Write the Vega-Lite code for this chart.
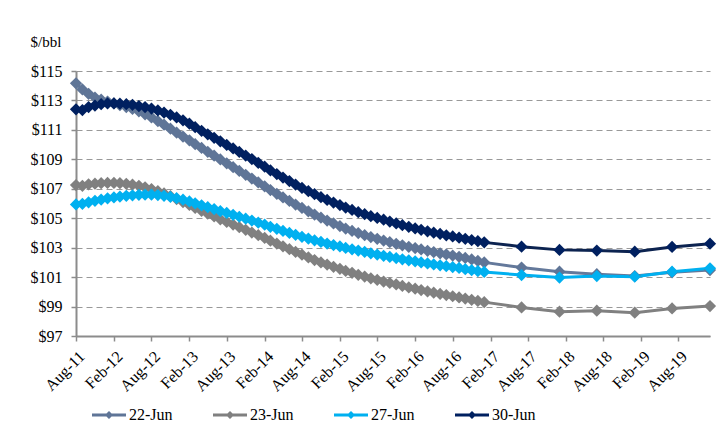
{
  "$schema": "https://vega.github.io/schema/vega-lite/v6.json",
  "width": 634,
  "height": 265,
  "autosize": "none",
  "padding": {"left": 76, "top": 71, "right": 17, "bottom": 88},
  "background": "white",
  "config": {
    "view": {"stroke": null},
    "font": "Times New Roman",
    "axis": {"labelFont": "Times New Roman", "titleFont": "Times New Roman", "labelColor": "#000", "titleColor": "#000", "domainColor": "#8c8c8c", "domainWidth": 2, "tickColor": "#8c8c8c", "tickWidth": 1.5, "tickSize": 5},
    "legend": {"labelFont": "Times New Roman"}
  },
  "data": {"values": [
    {"date":"2011-08-01","22-Jun":114.16,"23-Jun":107.25,"27-Jun":105.94,"30-Jun":112.4},
    {"date":"2011-09-01","22-Jun":113.75,"23-Jun":107.2,"27-Jun":105.98,"30-Jun":112.35},
    {"date":"2011-10-01","22-Jun":113.45,"23-Jun":107.3,"27-Jun":106.08,"30-Jun":112.55},
    {"date":"2011-11-01","22-Jun":113.2,"23-Jun":107.35,"27-Jun":106.18,"30-Jun":112.65},
    {"date":"2011-12-01","22-Jun":113.05,"23-Jun":107.38,"27-Jun":106.27,"30-Jun":112.75},
    {"date":"2012-01-01","22-Jun":112.92,"23-Jun":107.4,"27-Jun":106.35,"30-Jun":112.8},
    {"date":"2012-02-01","22-Jun":112.8,"23-Jun":107.4,"27-Jun":106.41,"30-Jun":112.8},
    {"date":"2012-03-01","22-Jun":112.68,"23-Jun":107.38,"27-Jun":106.47,"30-Jun":112.78},
    {"date":"2012-04-01","22-Jun":112.55,"23-Jun":107.34,"27-Jun":106.52,"30-Jun":112.75},
    {"date":"2012-05-01","22-Jun":112.42,"23-Jun":107.28,"27-Jun":106.56,"30-Jun":112.7},
    {"date":"2012-06-01","22-Jun":112.26,"23-Jun":107.2,"27-Jun":106.59,"30-Jun":112.62},
    {"date":"2012-07-01","22-Jun":112.06,"23-Jun":107.1,"27-Jun":106.6,"30-Jun":112.55},
    {"date":"2012-08-01","22-Jun":111.85,"23-Jun":106.98,"27-Jun":106.6,"30-Jun":112.45},
    {"date":"2012-09-01","22-Jun":111.6,"23-Jun":106.84,"27-Jun":106.57,"30-Jun":112.32},
    {"date":"2012-10-01","22-Jun":111.35,"23-Jun":106.68,"27-Jun":106.52,"30-Jun":112.18},
    {"date":"2012-11-01","22-Jun":111.08,"23-Jun":106.5,"27-Jun":106.45,"30-Jun":112.02},
    {"date":"2012-12-01","22-Jun":110.81,"23-Jun":106.3,"27-Jun":106.36,"30-Jun":111.85},
    {"date":"2013-01-01","22-Jun":110.55,"23-Jun":106.1,"27-Jun":106.26,"30-Jun":111.65},
    {"date":"2013-02-01","22-Jun":110.29,"23-Jun":105.9,"27-Jun":106.14,"30-Jun":111.42},
    {"date":"2013-03-01","22-Jun":110.03,"23-Jun":105.7,"27-Jun":106.01,"30-Jun":111.18},
    {"date":"2013-04-01","22-Jun":109.77,"23-Jun":105.5,"27-Jun":105.88,"30-Jun":110.94},
    {"date":"2013-05-01","22-Jun":109.51,"23-Jun":105.31,"27-Jun":105.75,"30-Jun":110.7},
    {"date":"2013-06-01","22-Jun":109.25,"23-Jun":105.12,"27-Jun":105.62,"30-Jun":110.46},
    {"date":"2013-07-01","22-Jun":108.99,"23-Jun":104.93,"27-Jun":105.49,"30-Jun":110.22},
    {"date":"2013-08-01","22-Jun":108.73,"23-Jun":104.75,"27-Jun":105.36,"30-Jun":109.98},
    {"date":"2013-09-01","22-Jun":108.47,"23-Jun":104.57,"27-Jun":105.23,"30-Jun":109.74},
    {"date":"2013-10-01","22-Jun":108.21,"23-Jun":104.39,"27-Jun":105.1,"30-Jun":109.5},
    {"date":"2013-11-01","22-Jun":107.95,"23-Jun":104.21,"27-Jun":104.97,"30-Jun":109.26},
    {"date":"2013-12-01","22-Jun":107.69,"23-Jun":104.03,"27-Jun":104.84,"30-Jun":109.02},
    {"date":"2014-01-01","22-Jun":107.43,"23-Jun":103.85,"27-Jun":104.7,"30-Jun":108.76},
    {"date":"2014-02-01","22-Jun":107.17,"23-Jun":103.66,"27-Jun":104.56,"30-Jun":108.5},
    {"date":"2014-03-01","22-Jun":106.91,"23-Jun":103.47,"27-Jun":104.42,"30-Jun":108.25},
    {"date":"2014-04-01","22-Jun":106.66,"23-Jun":103.28,"27-Jun":104.28,"30-Jun":108.0},
    {"date":"2014-05-01","22-Jun":106.41,"23-Jun":103.09,"27-Jun":104.14,"30-Jun":107.76},
    {"date":"2014-06-01","22-Jun":106.17,"23-Jun":102.9,"27-Jun":104.0,"30-Jun":107.52},
    {"date":"2014-07-01","22-Jun":105.93,"23-Jun":102.71,"27-Jun":103.87,"30-Jun":107.29},
    {"date":"2014-08-01","22-Jun":105.7,"23-Jun":102.52,"27-Jun":103.74,"30-Jun":107.06},
    {"date":"2014-09-01","22-Jun":105.47,"23-Jun":102.34,"27-Jun":103.62,"30-Jun":106.84},
    {"date":"2014-10-01","22-Jun":105.25,"23-Jun":102.16,"27-Jun":103.5,"30-Jun":106.63},
    {"date":"2014-11-01","22-Jun":105.04,"23-Jun":102.0,"27-Jun":103.39,"30-Jun":106.43},
    {"date":"2014-12-01","22-Jun":104.84,"23-Jun":101.85,"27-Jun":103.28,"30-Jun":106.24},
    {"date":"2015-01-01","22-Jun":104.65,"23-Jun":101.7,"27-Jun":103.18,"30-Jun":106.06},
    {"date":"2015-02-01","22-Jun":104.47,"23-Jun":101.56,"27-Jun":103.08,"30-Jun":105.89},
    {"date":"2015-03-01","22-Jun":104.3,"23-Jun":101.42,"27-Jun":102.98,"30-Jun":105.72},
    {"date":"2015-04-01","22-Jun":104.14,"23-Jun":101.29,"27-Jun":102.89,"30-Jun":105.56},
    {"date":"2015-05-01","22-Jun":103.99,"23-Jun":101.16,"27-Jun":102.8,"30-Jun":105.41},
    {"date":"2015-06-01","22-Jun":103.85,"23-Jun":101.04,"27-Jun":102.71,"30-Jun":105.27},
    {"date":"2015-07-01","22-Jun":103.72,"23-Jun":100.92,"27-Jun":102.62,"30-Jun":105.14},
    {"date":"2015-08-01","22-Jun":103.6,"23-Jun":100.81,"27-Jun":102.53,"30-Jun":105.02},
    {"date":"2015-09-01","22-Jun":103.48,"23-Jun":100.7,"27-Jun":102.45,"30-Jun":104.9},
    {"date":"2015-10-01","22-Jun":103.37,"23-Jun":100.6,"27-Jun":102.37,"30-Jun":104.77},
    {"date":"2015-11-01","22-Jun":103.26,"23-Jun":100.5,"27-Jun":102.29,"30-Jun":104.65},
    {"date":"2015-12-01","22-Jun":103.16,"23-Jun":100.4,"27-Jun":102.21,"30-Jun":104.53},
    {"date":"2016-01-01","22-Jun":103.06,"23-Jun":100.3,"27-Jun":102.14,"30-Jun":104.42},
    {"date":"2016-02-01","22-Jun":102.97,"23-Jun":100.21,"27-Jun":102.07,"30-Jun":104.31},
    {"date":"2016-03-01","22-Jun":102.88,"23-Jun":100.12,"27-Jun":102.0,"30-Jun":104.21},
    {"date":"2016-04-01","22-Jun":102.79,"23-Jun":100.03,"27-Jun":101.93,"30-Jun":104.11},
    {"date":"2016-05-01","22-Jun":102.7,"23-Jun":99.94,"27-Jun":101.86,"30-Jun":104.02},
    {"date":"2016-06-01","22-Jun":102.62,"23-Jun":99.86,"27-Jun":101.8,"30-Jun":103.93},
    {"date":"2016-07-01","22-Jun":102.54,"23-Jun":99.78,"27-Jun":101.74,"30-Jun":103.84},
    {"date":"2016-08-01","22-Jun":102.46,"23-Jun":99.7,"27-Jun":101.68,"30-Jun":103.76},
    {"date":"2016-09-01","22-Jun":102.38,"23-Jun":99.62,"27-Jun":101.62,"30-Jun":103.68},
    {"date":"2016-10-01","22-Jun":102.3,"23-Jun":99.54,"27-Jun":101.54,"30-Jun":103.6},
    {"date":"2016-11-01","22-Jun":102.2,"23-Jun":99.46,"27-Jun":101.47,"30-Jun":103.52},
    {"date":"2016-12-01","22-Jun":102.1,"23-Jun":99.38,"27-Jun":101.41,"30-Jun":103.44},
    {"date":"2017-01-01","22-Jun":102.0,"23-Jun":99.3,"27-Jun":101.35,"30-Jun":103.36},
    {"date":"2017-07-01","22-Jun":101.65,"23-Jun":98.94,"27-Jun":101.14,"30-Jun":103.07},
    {"date":"2018-01-01","22-Jun":101.37,"23-Jun":98.65,"27-Jun":100.97,"30-Jun":102.85},
    {"date":"2018-07-01","22-Jun":101.2,"23-Jun":98.72,"27-Jun":101.07,"30-Jun":102.8},
    {"date":"2019-01-01","22-Jun":101.07,"23-Jun":98.58,"27-Jun":101.03,"30-Jun":102.73},
    {"date":"2019-07-01","22-Jun":101.33,"23-Jun":98.87,"27-Jun":101.37,"30-Jun":103.05},
    {"date":"2020-01-01","22-Jun":101.48,"23-Jun":99.03,"27-Jun":101.6,"30-Jun":103.27}
  ]},
  "transform": [{"fold": ["22-Jun", "23-Jun", "27-Jun", "30-Jun"], "as": ["series", "price"]}],
  "encoding": {
    "x": {
      "field": "date", "type": "temporal",
      "scale": {"type": "utc", "domain": [{"year": 2011, "month": 8, "date": 1, "utc": true}, {"year": 2020, "month": 1, "date": 1, "utc": true}]},
      "axis": {
        "title": null, "format": "%b-%y", "labelAngle": -45, "labelFontSize": 16, "labelPadding": 7, "grid": false, "labelOverlap": false,
        "values": [
          {"year": 2011, "month": 8, "date": 1, "utc": true},
          {"year": 2012, "month": 2, "date": 1, "utc": true},
          {"year": 2012, "month": 8, "date": 1, "utc": true},
          {"year": 2013, "month": 2, "date": 1, "utc": true},
          {"year": 2013, "month": 8, "date": 1, "utc": true},
          {"year": 2014, "month": 2, "date": 1, "utc": true},
          {"year": 2014, "month": 8, "date": 1, "utc": true},
          {"year": 2015, "month": 2, "date": 1, "utc": true},
          {"year": 2015, "month": 8, "date": 1, "utc": true},
          {"year": 2016, "month": 2, "date": 1, "utc": true},
          {"year": 2016, "month": 8, "date": 1, "utc": true},
          {"year": 2017, "month": 2, "date": 1, "utc": true},
          {"year": 2017, "month": 8, "date": 1, "utc": true},
          {"year": 2018, "month": 2, "date": 1, "utc": true},
          {"year": 2018, "month": 8, "date": 1, "utc": true},
          {"year": 2019, "month": 2, "date": 1, "utc": true},
          {"year": 2019, "month": 8, "date": 1, "utc": true}
        ]
      }
    },
    "y": {
      "field": "price", "type": "quantitative",
      "scale": {"domain": [97, 115], "nice": false, "zero": false},
      "axis": {
        "values": [97, 99, 101, 103, 105, 107, 109, 111, 113, 115],
        "format": "$.0f", "labelFontSize": 16, "labelPadding": 9,
        "grid": true, "gridColor": "#999999", "gridDash": [6, 4], "gridWidth": 1.2,
        "title": "$/bbl", "titleAngle": 0, "titleAlign": "left", "titleBaseline": "alphabetic",
        "titleX": -46, "titleY": -25, "titleFontSize": 15, "titleFontWeight": "normal"
      }
    }
  },
  "layer": [
    {
      "mark": {"type": "line", "strokeWidth": 3},
      "encoding": {
        "stroke": {"field": "series", "type": "nominal",
          "scale": {"domain": ["22-Jun", "23-Jun", "27-Jun", "30-Jun"], "range": ["#64799b", "#808080", "#00b0f0", "#0c2350"]},
          "legend": {
            "title": null, "orient": "none", "direction": "horizontal", "columns": 4,
            "legendX": 16, "legendY": 327, "padding": 0,
            "symbolType": "M-1,-0.09L1,-0.09L1,0.09L-1,0.09Z M0,-0.24L0.24,0L0,0.24L-0.24,0Z",
            "symbolSize": 1156, "symbolStrokeWidth": 0, "symbolOpacity": 1,
            "labelFont": "Times New Roman", "labelFontSize": 16, "labelColor": "#000", "labelOffset": 3,
            "columnPadding": 40
          }
        }
      }
    },
    {
      "mark": {"type": "point", "shape": "diamond", "filled": true, "size": 150, "opacity": 1, "strokeWidth": 0},
      "encoding": {
        "fill": {"field": "series", "type": "nominal",
          "scale": {"domain": ["22-Jun", "23-Jun", "27-Jun", "30-Jun"], "range": ["#5f7597", "#808080", "#00b0f0", "#002060"]},
          "legend": {
            "title": null, "orient": "none", "direction": "horizontal", "columns": 4,
            "legendX": 16, "legendY": 327, "padding": 0,
            "symbolType": "M-1,-0.09L1,-0.09L1,0.09L-1,0.09Z M0,-0.24L0.24,0L0,0.24L-0.24,0Z",
            "symbolSize": 1156, "symbolStrokeWidth": 0, "symbolOpacity": 1,
            "labelFont": "Times New Roman", "labelFontSize": 16, "labelColor": "#000", "labelOffset": 3,
            "columnPadding": 40
          }
        },
        "order": {"field": "series", "type": "ordinal"}
      }
    }
  ]
}
